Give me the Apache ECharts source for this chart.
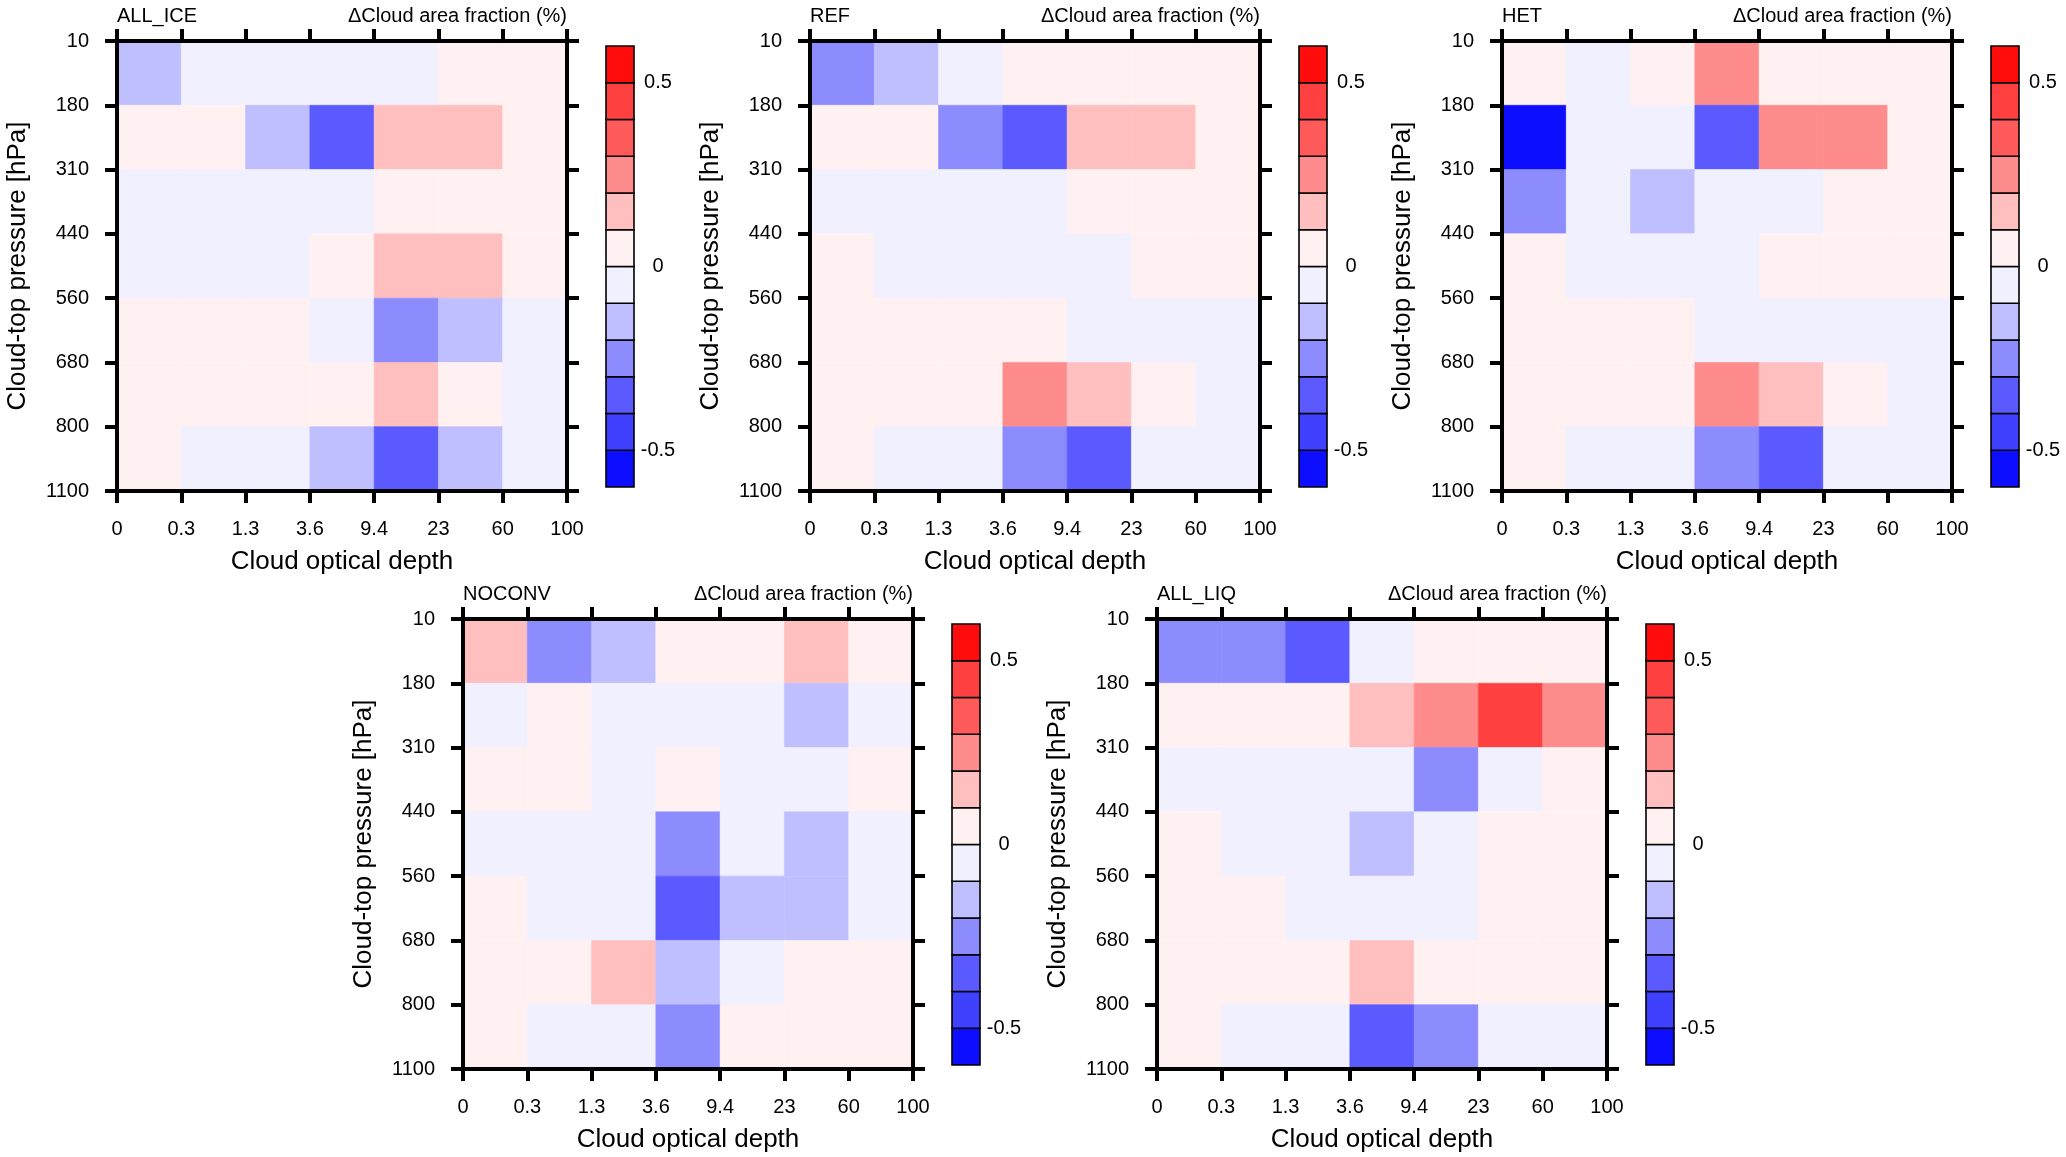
<!DOCTYPE html>
<html>
<head>
<meta charset="utf-8">
<script src="https://cdn.jsdelivr.net/npm/echarts@6/dist/echarts.min.js"></script>
<style>
html,body{margin:0;padding:0;background:#fff;}
#chart{width:2066px;height:1157px;}
</style>
</head>
<body>
<div id="chart"></div>
<script>
// ---- data ----
const odLabels = ['0', '0.3', '1.3', '3.6', '9.4', '23', '60', '100'];
const pLabels = ['10', '180', '310', '440', '560', '680', '800', '1100'];
const cbBounds = [-0.6, -0.5, -0.4, -0.3, -0.2, -0.1, 0, 0.1, 0.2, 0.3, 0.4, 0.5, 0.6];
const cbColors = ['#0D0DFF', '#4040FF', '#5A5AFF', '#8C8CFF', '#BFBFFF', '#F0F0FF',
                  '#FFF1F1', '#FFBFBF', '#FF8C8C', '#FF5A5A', '#FF4040', '#FF0D0D'];
const cbLabels = [-0.5, 0, 0.5];
const panelNames = ['ALL_ICE', 'REF', 'HET', 'NOCONV', 'ALL_LIQ'];
const unitLabel = '\u0394Cloud area fraction (%)';

// rows: top (10-180 hPa) to bottom (800-1100 hPa); columns: optical depth bins 0-0.3 ... 60-100
const allIce = [
  [-0.15, -0.05, -0.05, -0.05, -0.05, 0.05, 0.05],
  [0.05, 0.05, -0.15, -0.35, 0.15, 0.15, 0.05],
  [-0.05, -0.05, -0.05, -0.05, 0.05, 0.05, 0.05],
  [-0.05, -0.05, -0.05, 0.05, 0.15, 0.15, 0.05],
  [0.05, 0.05, 0.05, -0.05, -0.25, -0.15, -0.05],
  [0.05, 0.05, 0.05, 0.05, 0.15, 0.05, -0.05],
  [0.05, -0.05, -0.05, -0.15, -0.35, -0.15, -0.05]
];
const ref = [
  [-0.25, -0.15, -0.05, 0.05, 0.05, 0.05, 0.05],
  [0.05, 0.05, -0.25, -0.35, 0.15, 0.15, 0.05],
  [-0.05, -0.05, -0.05, -0.05, 0.05, 0.05, 0.05],
  [0.05, -0.05, -0.05, -0.05, -0.05, 0.05, 0.05],
  [0.05, 0.05, 0.05, 0.05, -0.05, -0.05, -0.05],
  [0.05, 0.05, 0.05, 0.25, 0.15, 0.05, -0.05],
  [0.05, -0.05, -0.05, -0.25, -0.35, -0.05, -0.05]
];
const het = [
  [0.05, -0.05, 0.05, 0.25, 0.05, 0.05, 0.05],
  [-0.55, -0.05, -0.05, -0.35, 0.25, 0.25, 0.05],
  [-0.25, -0.05, -0.15, -0.05, -0.05, 0.05, 0.05],
  [0.05, -0.05, -0.05, -0.05, 0.05, 0.05, 0.05],
  [0.05, 0.05, 0.05, -0.05, -0.05, -0.05, -0.05],
  [0.05, 0.05, 0.05, 0.25, 0.15, 0.05, -0.05],
  [0.05, -0.05, -0.05, -0.25, -0.35, -0.05, -0.05]
];
const noconv = [
  [0.15, -0.25, -0.15, 0.05, 0.05, 0.15, 0.05],
  [-0.05, 0.05, -0.05, -0.05, -0.05, -0.15, -0.05],
  [0.05, 0.05, -0.05, 0.05, -0.05, -0.05, 0.05],
  [-0.05, -0.05, -0.05, -0.25, -0.05, -0.15, -0.05],
  [0.05, -0.05, -0.05, -0.35, -0.15, -0.15, -0.05],
  [0.05, 0.05, 0.15, -0.15, -0.05, 0.05, 0.05],
  [0.05, -0.05, -0.05, -0.25, 0.05, 0.05, 0.05]
];
const allLiq = [
  [-0.25, -0.25, -0.35, -0.05, 0.05, 0.05, 0.05],
  [0.05, 0.05, 0.05, 0.15, 0.25, 0.45, 0.25],
  [-0.05, -0.05, -0.05, -0.05, -0.25, -0.05, 0.05],
  [0.05, -0.05, -0.05, -0.15, -0.05, 0.05, 0.05],
  [0.05, 0.05, -0.05, -0.05, -0.05, 0.05, 0.05],
  [0.05, 0.05, 0.05, 0.15, 0.05, 0.05, 0.05],
  [0.05, -0.05, -0.05, -0.35, -0.25, -0.05, -0.05]
];
const panelData = [allIce, ref, het, noconv, allLiq];

// ---- layout ----
const FONT = '"Liberation Sans", Arial, Helvetica, sans-serif';
const W = 2066;
const plotSize = 450;
const panelPos = [[117, 41], [810, 41], [1502, 41], [463, 619], [1157, 619]];

const grids = [], xAxes = [], yAxes = [], series = [], titles = [];
const cellSeriesIdx = [];

function renderCell(params, api) {
  const x = api.value(0), y = api.value(1);
  const p0 = api.coord([x, y]);
  const p1 = api.coord([x + 1, y + 1]);
  const col = api.visual('color');
  return {
    type: 'rect',
    shape: {x: Math.min(p0[0], p1[0]), y: Math.min(p0[1], p1[1]),
            width: Math.abs(p1[0] - p0[0]), height: Math.abs(p1[1] - p0[1])},
    style: {fill: col, stroke: col, lineWidth: 0.6}
  };
}
function renderBox(params, api) {
  const lo = api.value(0), hi = api.value(1), ci = api.value(2);
  const p0 = api.coord([0, hi]);
  const p1 = api.coord([1, lo]);
  return {
    type: 'rect',
    shape: {x: p0[0], y: p0[1], width: p1[0] - p0[0], height: p1[1] - p0[1]},
    style: {fill: cbColors[ci], stroke: '#000', lineWidth: 1.6}
  };
}

const axLine = {show: true, onZero: false, lineStyle: {color: '#000', width: 4, cap: 'square'}};
const axTick = {show: true, inside: false, length: 12, lineStyle: {color: '#000', width: 4}};

panelPos.forEach((pos, k) => {
  const [L, T] = pos;
  grids.push({left: L, top: T, width: plotSize, height: plotSize});
  // bottom x
  xAxes.push({
    type: 'value', gridIndex: k, min: 0, max: 7, interval: 1, position: 'bottom', z: 5,
    axisLine: axLine, axisTick: axTick, splitLine: {show: false},
    axisLabel: {show: true, showMinLabel: true, showMaxLabel: true, margin: 28, fontSize: 20,
                color: '#000', fontFamily: FONT, formatter: v => odLabels[Math.round(v)]},
    name: 'Cloud optical depth', nameLocation: 'middle', nameGap: 58,
    nameTextStyle: {fontSize: 26, color: '#000', fontFamily: FONT}
  });
  // top x
  xAxes.push({
    type: 'value', gridIndex: k, min: 0, max: 7, interval: 1, position: 'top', z: 5,
    axisLine: axLine, axisTick: axTick, splitLine: {show: false}, axisLabel: {show: false}
  });
  // left y
  yAxes.push({
    type: 'value', gridIndex: k, min: 0, max: 7, interval: 1, inverse: true, position: 'left', z: 5,
    axisLine: axLine, axisTick: axTick, splitLine: {show: false},
    axisLabel: {show: true, showMinLabel: true, showMaxLabel: true, margin: 28, fontSize: 20,
                color: '#000', fontFamily: FONT, formatter: v => pLabels[Math.round(v)]},
    name: 'Cloud-top pressure [hPa]', nameLocation: 'middle', nameGap: 86,
    nameTextStyle: {fontSize: 26, color: '#000', fontFamily: FONT}
  });
  // right y
  yAxes.push({
    type: 'value', gridIndex: k, min: 0, max: 7, interval: 1, inverse: true, position: 'right', z: 5,
    axisLine: axLine, axisTick: axTick, splitLine: {show: false}, axisLabel: {show: false}
  });
  const data = [];
  panelData[k].forEach((row, r) => row.forEach((v, c) => data.push([c, r, v])));
  cellSeriesIdx.push(series.length);
  series.push({
    type: 'custom', name: panelNames[k], xAxisIndex: 2 * k, yAxisIndex: 2 * k, z: 1,
    renderItem: renderCell, data: data, encode: {x: 0, y: 1}, silent: true
  });
  titles.push({text: panelNames[k], left: L, top: T - 35, padding: 0,
               textStyle: {fontSize: 20, fontWeight: 'normal', color: '#000', fontFamily: FONT}});
  titles.push({text: unitLabel, right: W - (L + plotSize), top: T - 35, padding: 0,
               textStyle: {fontSize: 20, fontWeight: 'normal', color: '#000', fontFamily: FONT}});
});

// colorbars
panelPos.forEach((pos, k) => {
  const [L, T] = pos;
  const gi = grids.length;
  grids.push({left: L + 489, top: T + 5, width: 28, height: 441});
  const xi = xAxes.length, yi = yAxes.length;
  xAxes.push({type: 'value', gridIndex: gi, min: 0, max: 1, show: false});
  yAxes.push({
    type: 'value', gridIndex: gi, min: -0.6, max: 0.6, position: 'right',
    axisLine: {show: false}, axisTick: {show: false}, splitLine: {show: false},
    axisLabel: {show: true, customValues: cbLabels, margin: 24, align: 'center', fontSize: 20,
                color: '#000', fontFamily: FONT, formatter: v => String(v)}
  });
  series.push({
    type: 'custom', xAxisIndex: xi, yAxisIndex: yi, silent: true, renderItem: renderBox,
    data: cbColors.map((c, i) => [cbBounds[i], cbBounds[i + 1], i])
  });
});

const pieces = cbColors.map((c, i) => {
  const p = {color: c};
  if (i > 0) p.gte = cbBounds[i];
  if (i < cbColors.length - 1) p.lt = cbBounds[i + 1];
  return p;
});

const chart = echarts.init(document.getElementById('chart'), null, {renderer: 'canvas'});
chart.setOption({
  backgroundColor: '#fff',
  animation: false,
  title: titles,
  grid: grids,
  xAxis: xAxes,
  yAxis: yAxes,
  visualMap: {type: 'piecewise', show: false, dimension: 2, seriesIndex: cellSeriesIdx, pieces: pieces},
  series: series
});
</script>
</body>
</html>
